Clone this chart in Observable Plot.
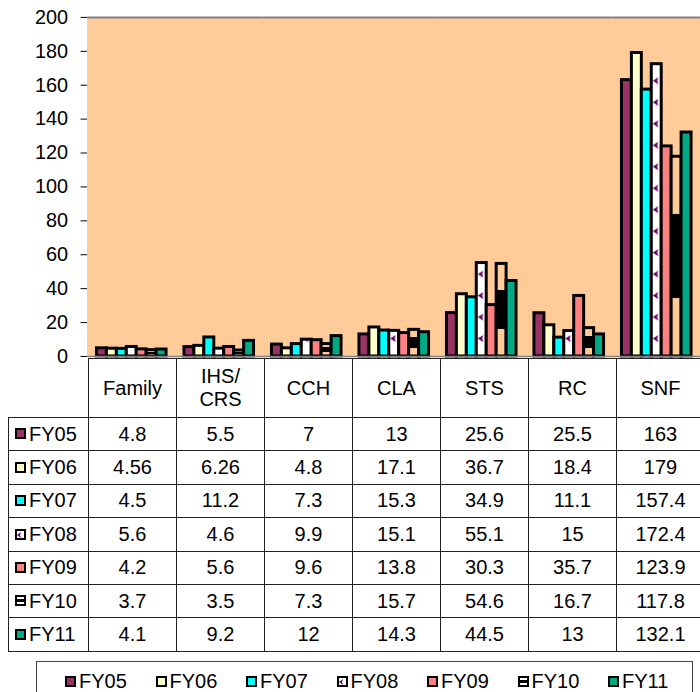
<!DOCTYPE html>
<html><head><meta charset="utf-8">
<script src="https://cdn.jsdelivr.net/npm/d3@7"></script>
<script src="https://cdn.jsdelivr.net/npm/@observablehq/plot@0.6"></script>
<style>
html,body{margin:0;padding:0;width:700px;height:692px;overflow:hidden;background:#fff;font-family:"Liberation Sans",Arial,sans-serif;color:#000;}
#chart{position:absolute;left:0;top:0;}
#tbl{position:absolute;left:8px;top:358px;border-collapse:collapse;table-layout:fixed;font-size:20px;width:696px;}
#tbl td{border:1px solid #222;padding:0;text-align:center;vertical-align:middle;white-space:pre-line;line-height:23px;}
#tbl td.blank{border:none;}
#tbl tr.head td{height:58px;}
#tbl tr.row td{height:32.4px;}
#tbl td.lab{text-align:left;padding-left:6px;white-space:nowrap;}
.sw{display:inline-block;vertical-align:middle;margin-right:3px;margin-top:-3px;}
#legend{position:absolute;left:36px;top:661px;width:655px;height:40px;border:1px solid #444;font-size:20px;}
#legend .it{position:absolute;top:9px;line-height:20px;white-space:nowrap;}
</style></head><body>
<svg width="0" height="0" style="position:absolute;left:0;top:0">
  <defs>
    <pattern id="fy08" patternUnits="userSpaceOnUse" x="0" y="13" width="1000" height="21.6">
      <rect width="1000" height="21.6" fill="#ffffff"></rect>
      <polygon points="0,3.5 5.5,0 4.5,3.5 5.5,7" fill="#660066"></polygon>
    </pattern>
    <linearGradient id="fy10" x1="0" y1="0" x2="0" y2="1">
      <stop offset="0" stop-color="#FFCC99"></stop>
      <stop offset="0.29" stop-color="#FFCC99"></stop>
      <stop offset="0.29" stop-color="#000000"></stop>
      <stop offset="0.71" stop-color="#000000"></stop>
      <stop offset="0.71" stop-color="#FFCC99"></stop>
      <stop offset="1" stop-color="#FFCC99"></stop>
    </linearGradient>
  </defs>
</svg>
<div id="chart"></div>
<table id="tbl"></table>
<div id="legend"></div>
<script>
const categories = ["Family","IHS/CRS","CCH","CLA","STS","RC","SNF"];
const series = ["FY05","FY06","FY07","FY08","FY09","FY10","FY11"];
const FY05 = [4.8, 5.5, 7, 13, 25.6, 25.5, 163];
const FY06 = [4.56, 6.26, 4.8, 17.1, 36.7, 18.4, 179];
const FY07 = [4.5, 11.2, 7.3, 15.3, 34.9, 11.1, 157.4];
const FY08 = [5.6, 4.6, 9.9, 15.1, 55.1, 15, 172.4];
const FY09 = [4.2, 5.6, 9.6, 13.8, 30.3, 35.7, 123.9];
const FY10 = [3.7, 3.5, 7.3, 15.7, 54.6, 16.7, 117.8];
const FY11 = [4.1, 9.2, 12, 14.3, 44.5, 13, 132.1];
const yTicks = [0, 20, 40, 60, 80, 100, 120, 140, 160, 180, 200];
const fills = ["#993366","#FFFFCC","#00FFFF","url(#fy08)","#FF8080","url(#fy10)","#00AA85"];

const values = [FY05, FY06, FY07, FY08, FY09, FY10, FY11];
const data = series.flatMap((s, i) => categories.map((c, j) => ({category: c, series: s, value: values[i][j]})));

const chart = Plot.plot({
  width: 704, height: 359,
  marginLeft: 88, marginRight: 0, marginTop: 17, marginBottom: 1,
  style: {fontSize: "20px", fontFamily: "'Liberation Sans', Arial, sans-serif", color: "#000", background: "transparent", overflow: "visible"},
  fx: {domain: categories, padding: 0, axis: null},
  x: {domain: series, paddingInner: 0, paddingOuter: 0.72, axis: null},
  y: {domain: [0, 200], ticks: yTicks, tickSize: 7, tickPadding: 13, label: null, line: true},
  color: {domain: series, range: fills},
  marks: [
    Plot.frame({fill: "#FFCC99", stroke: "none", insetLeft: -1, insetRight: -1}),
    Plot.ruleY([200], {stroke: "#808080", strokeWidth: 2}),
    Plot.barY(data, {fx: "category", x: "series", y: "value", fill: "series", stroke: "#000", strokeWidth: 3}),
    Plot.ruleY([0], {stroke: "#808080", strokeWidth: 1.5})
  ]
});
document.getElementById("chart").appendChild(chart);

// align FY08 pattern to its bar (local x within each facet)
const r08 = chart.querySelector('rect[fill="url(#fy08)"]');
if (r08) {
  const bb = r08.getBBox();
  document.getElementById("fy08").setAttribute("x", bb.x + 1.5);
}

function swatch(i) {
  let inner = "";
  let f = fills[i];
  if (series[i] === "FY08") { f = "#ffffff"; inner = '<polygon points="2,6 6,3 5,6 6,9" fill="#660066"></polygon>'; }
  if (series[i] === "FY10") { f = "#ffffff"; inner = '<rect x="1" y="4" width="9" height="3" fill="#000"></rect>'; }
  return `<svg class="sw" width="11" height="11"><rect x="1" y="1" width="9" height="9" fill="${f}" stroke="#000" stroke-width="2"></rect>${inner}</svg>`;
}

const tbl = d3.select("#tbl");
const cg = tbl.append("colgroup");
cg.append("col").style("width", "80px");
categories.forEach(() => cg.append("col").style("width", "88px"));
const head = tbl.append("tr").attr("class", "head");
head.append("td").attr("class", "blank");
categories.forEach(c => head.append("td").text(c.replace("/", "/\n")));
series.forEach((s, i) => {
  const tr = tbl.append("tr").attr("class", "row");
  tr.append("td").attr("class", "lab").html(swatch(i) + s);
  values[i].forEach(v => tr.append("td").text(v));
});

const leg = d3.select("#legend");
series.forEach((s, i) => {
  leg.append("div").attr("class", "it").style("left", (28 + i * 90.5) + "px").html(swatch(i) + s);
});
</script>
</body></html>
